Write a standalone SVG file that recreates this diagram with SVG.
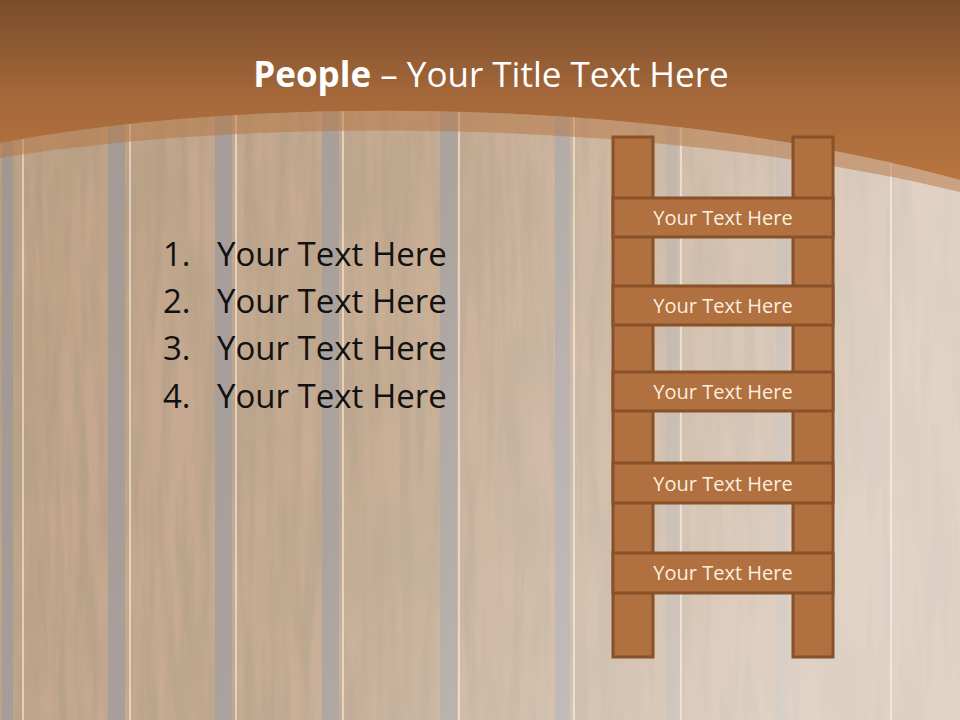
<svg xmlns="http://www.w3.org/2000/svg" width="960" height="720" viewBox="0 0 960 720">
  <defs>
    <linearGradient id="hdr" x1="0" y1="0" x2="0" y2="1" gradientUnits="objectBoundingBox">
      <stop offset="0" stop-color="#7a4d2a"/>
      <stop offset="0.55" stop-color="#a5683a"/>
      <stop offset="1" stop-color="#b7753f"/>
    </linearGradient>
    <linearGradient id="fog" x1="0" y1="0" x2="1" y2="0.25">
      <stop offset="0" stop-color="#ffffff" stop-opacity="0.32"/>
      <stop offset="0.5" stop-color="#ffffff" stop-opacity="0.40"/>
      <stop offset="1" stop-color="#ffffff" stop-opacity="0.68"/>
    </linearGradient>
    <filter id="grain" x="0" y="0" width="100%" height="100%">
      <feTurbulence type="fractalNoise" baseFrequency="0.09 0.006" numOctaves="4" seed="7"/>
      <feColorMatrix type="matrix" values="0 0 0 0 0.28  0 0 0 0 0.15  0 0 0 0 0.06  3.2 0 0 0 -1.25"/>
    </filter>
    <filter id="blotch" x="0" y="0" width="100%" height="100%">
      <feTurbulence type="fractalNoise" baseFrequency="0.02 0.008" numOctaves="3" seed="3"/>
      <feColorMatrix type="matrix" values="0 0 0 0 0.30  0 0 0 0 0.16  0 0 0 0 0.06  0 2.6 0 0 -1.05"/>
    </filter>
    <style>
      .rail { fill:#b0703f; stroke:#87512a; stroke-width:3; }
      .rung { fill:#b0703f; stroke:#87512a; stroke-width:3; }
      .rtxt { font-family:"Open Sans","Liberation Sans",sans-serif; font-size:20px; fill:#fcefdf; text-anchor:middle; }
      .ltxt { font-family:"Open Sans","Liberation Sans",sans-serif; font-size:33px; fill:#111111; }
      .groove { fill:#74665e; }
      .hi { fill:#f6e2cc; opacity:0.6; }
    </style>
  </defs>

  <!-- wood background -->
  <g id="background">
    <rect x="0" y="0" width="960" height="720" fill="#a5774f"/>
    <rect x="0" y="0" width="960" height="720" filter="url(#blotch)"/>
    <rect x="0" y="0" width="960" height="720" filter="url(#grain)"/>
    <rect class="groove" x="2" y="0" width="11" height="720"/>
    <rect class="hi" x="22" y="0" width="2" height="720"/>
    <rect class="groove" x="108" y="0" width="17" height="720"/>
    <rect class="hi" x="129" y="0" width="2" height="720"/>
    <rect class="groove" x="215" y="0" width="17" height="720"/>
    <rect class="hi" x="235" y="0" width="2" height="720"/>
    <rect class="groove" x="322" y="0" width="17" height="720"/>
    <rect class="hi" x="342" y="0" width="2" height="720"/>
    <rect class="groove" x="440" y="0" width="17" height="720"/>
    <rect class="hi" x="458" y="0" width="2" height="720"/>
    <rect class="groove" x="555" y="0" width="15" height="720"/>
    <rect class="hi" x="573" y="0" width="2" height="720"/>
    <rect class="groove" x="666" y="0" width="12" height="720" opacity="0.6"/>
    <rect class="hi" x="680" y="0" width="2" height="720"/>
    <rect class="groove" x="776" y="0" width="12" height="720" opacity="0.5"/>
    <rect class="hi" x="890" y="0" width="2" height="720"/>
    <rect x="0" y="0" width="960" height="720" fill="url(#fog)"/>
  </g>

  <!-- header with curved band -->
  <g id="header">
    <path d="M0,143 C250,95 650,95 960,180 L960,192 C650,117 250,117 0,158 Z" fill="#b5733f" opacity="0.5"/>
    <path d="M0,0 H960 V180 C650,95 250,95 0,143 Z" fill="url(#hdr)"/>
    <text x="491" y="87" text-anchor="middle" font-family="'Open Sans','Liberation Sans',sans-serif" font-size="35" fill="#ffffff"><tspan font-weight="bold">People</tspan> – Your Title Text Here</text>
  </g>

  <!-- numbered list -->
  <g id="list">
    <text class="ltxt" x="163" y="266">1.</text><text class="ltxt" x="217" y="266">Your Text Here</text>
    <text class="ltxt" x="163" y="313">2.</text><text class="ltxt" x="217" y="313">Your Text Here</text>
    <text class="ltxt" x="163" y="360">3.</text><text class="ltxt" x="217" y="360">Your Text Here</text>
    <text class="ltxt" x="163" y="408">4.</text><text class="ltxt" x="217" y="408">Your Text Here</text>
  </g>

  <!-- ladder -->
  <g id="connectors">
    <g id="rail-left"><rect class="rail" x="613" y="137" width="40" height="520"/></g>
    <g id="rail-right"><rect class="rail" x="793" y="137" width="40" height="520"/></g>
  </g>
  <g id="rung1"><rect class="rung" x="613" y="198" width="220" height="39"/><text class="rtxt" x="723" y="225">Your Text Here</text></g>
  <g id="rung2"><rect class="rung" x="613" y="286" width="220" height="39"/><text class="rtxt" x="723" y="313">Your Text Here</text></g>
  <g id="rung3"><rect class="rung" x="613" y="372" width="220" height="39"/><text class="rtxt" x="723" y="399">Your Text Here</text></g>
  <g id="rung4"><rect class="rung" x="613" y="463" width="220" height="40"/><text class="rtxt" x="723" y="491">Your Text Here</text></g>
  <g id="rung5"><rect class="rung" x="613" y="553" width="220" height="40"/><text class="rtxt" x="723" y="580">Your Text Here</text></g>
</svg>
